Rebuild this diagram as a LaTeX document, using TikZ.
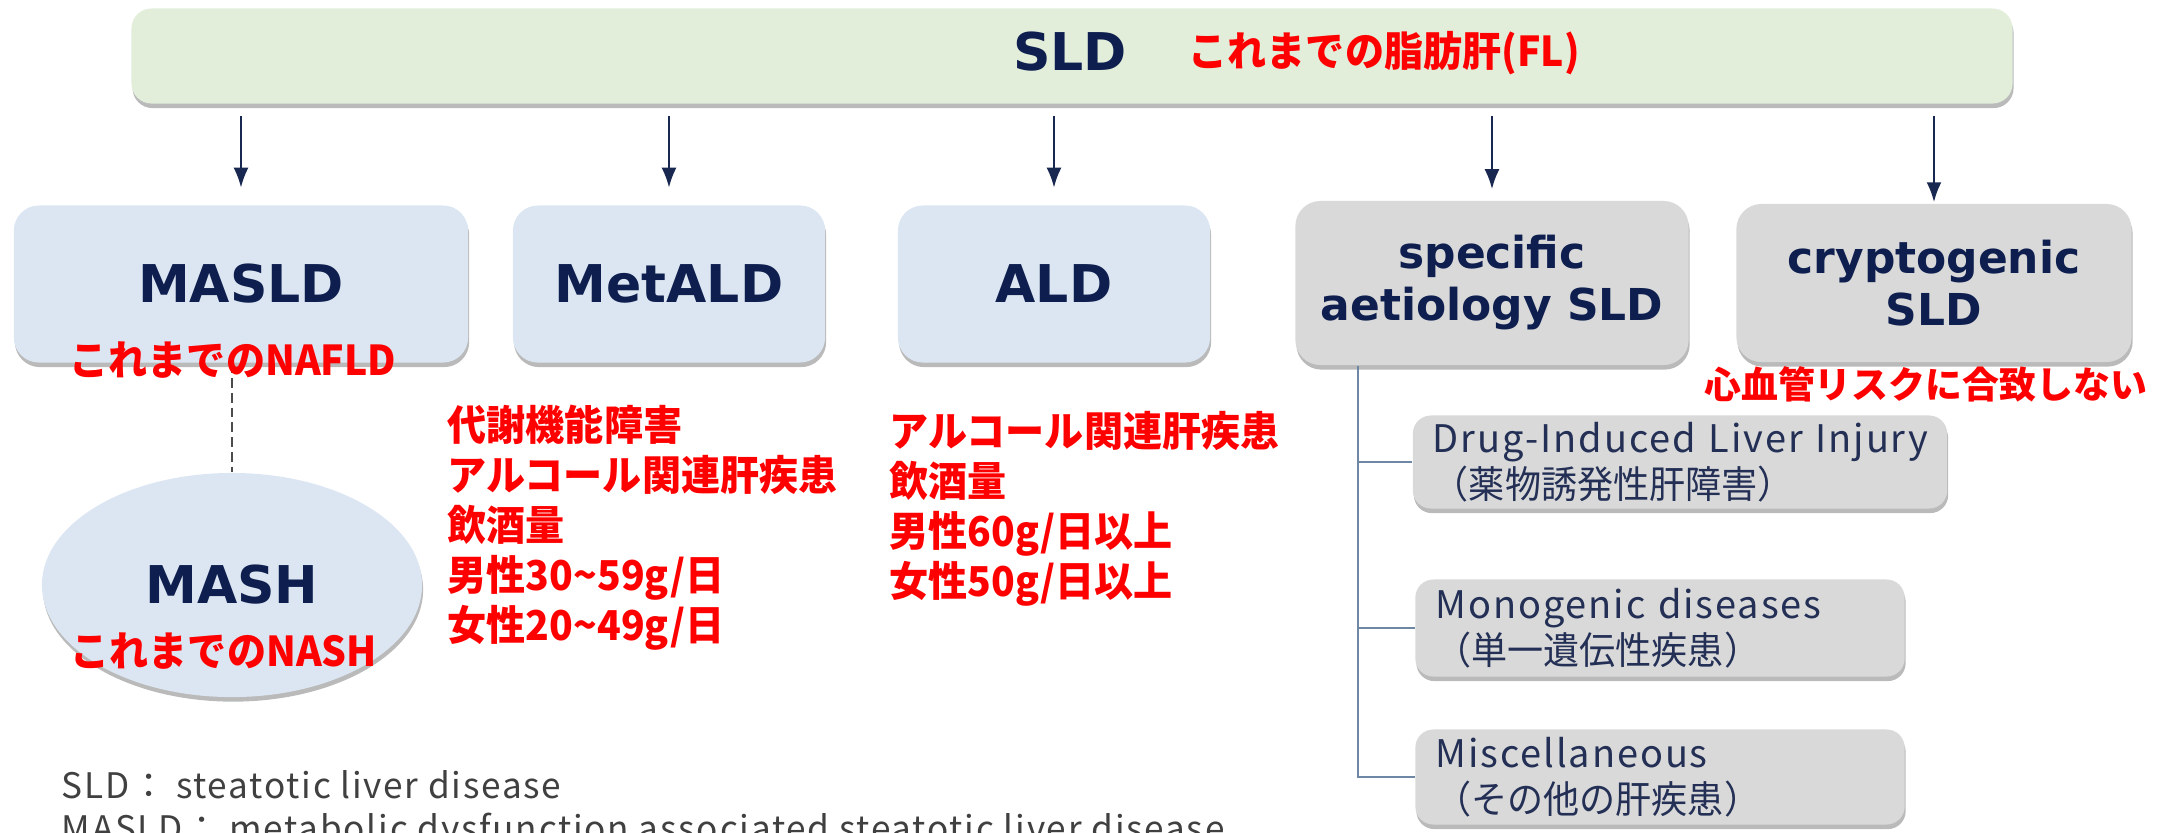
\documentclass[tikz,border=0pt]{standalone}
\usepackage{fontspec}
\setmainfont{DejaVu Sans}
\newfontfamily\dv{DejaVu Sans}
\newfontfamily\jp{Noto Sans CJK JP}
\newfontfamily\jpr{Noto Sans CJK JP}[FakeStretch=0.95]
\newfontfamily\jpw{Noto Sans CJK JP}[LetterSpace=5]
\newfontfamily\jpn{Noto Sans CJK JP}[FakeStretch=0.95]
\usetikzlibrary{shapes.geometric,shadows,arrows.meta}
\definecolor{navy}{RGB}{14,31,79}
\definecolor{arrowc}{RGB}{25,40,80}
\definecolor{boxblue}{RGB}{220,230,242}
\definecolor{boxgray}{RGB}{217,217,217}
\definecolor{bargreen}{RGB}{226,238,218}
\definecolor{subtext}{RGB}{35,47,85}
\definecolor{treec}{RGB}{110,135,165}
\definecolor{foottext}{RGB}{64,64,64}
\definecolor{redc}{RGB}{255,0,0}
\begin{document}
\begin{tikzpicture}[x=0.01cm,y=-0.01cm]
\useasboundingbox (0,0) rectangle (2174,832);
\tikzset{
  shad/.style={drop shadow={shadow xshift=0.3pt,shadow yshift=-1.3pt,fill=black!60,opacity=0.45}},
  titlefont/.style={font=\dv\bfseries\fontsize{14.8}{17}\selectfont, text=navy},
  bluebox/.style={shad, fill=boxblue, rounded corners=0.25cm, minimum height=1.57cm, inner sep=0pt, titlefont},
  graybox/.style={shad, fill=boxgray, rounded corners=0.25cm, minimum height=1.58cm, inner sep=0pt, align=center,
     font=\dv\bfseries\fontsize{12.5}{14.8}\selectfont, text=navy},
  barbox/.style={shad, fill=bargreen, rounded corners=0.2cm, inner sep=0pt},
  redtext/.style={font=\jpr\bfseries\fontsize{11.7}{14.2}\selectfont, text=redc, inner sep=0pt},
  subbox/.style={shad, fill=boxgray, rounded corners=0.18cm, align=left, inner xsep=0.2cm, inner ysep=0pt,
     text=subtext, font=\fontsize{10.8}{13.1}\selectfont},
  foot/.style={font=\jpw\fontsize{10}{12.2}\selectfont, text=foottext, inner sep=0pt},
  arr/.style={draw=arrowc, line width=0.7pt, -{Latex[length=0.2cm,width=0.15cm]}},
  dashline/.style={draw=black!70, line width=0.4pt, dash pattern=on 2.8pt off 1.4pt},
  tree/.style={draw=treec, line width=0.6pt}
}
% top bar
\node[barbox, minimum width=18.8cm, minimum height=0.95cm] (sld) at (1072,56) {};
\node[titlefont, inner sep=0pt] (sldt) at (1070,52) {SLD};
\node[redtext, anchor=west] (fl) at (1188,53) {これまでの脂肪肝(FL)};

% second row
\node[bluebox, minimum width=4.54cm] (masld) at (241,284) {MASLD};
\node[bluebox, minimum width=3.12cm] (metald) at (669,284) {MetALD};
\node[bluebox, minimum width=3.12cm] (ald) at (1054,284) {ALD};
\node[graybox, minimum width=3.93cm, minimum height=1.64cm] (spec) at (1492,283) {specific\\aetiology SLD};
\node[graybox, minimum width=3.95cm] (crypt) at (1934,283) {cryptogenic\\SLD};

% arrows
\draw[arr, shorten <=0.12cm, shorten >=0.17cm] (sld.south -| masld.north) -- (masld.north);
\draw[arr, shorten <=0.12cm, shorten >=0.17cm] (sld.south -| metald.north) -- (metald.north);
\draw[arr, shorten <=0.12cm, shorten >=0.17cm] (sld.south -| ald.north) -- (ald.north);
\draw[arr, shorten <=0.12cm, shorten >=0.11cm] (sld.south -| spec.north) -- (spec.north);
\draw[arr, shorten <=0.12cm, shorten >=0.01cm] (sld.south -| crypt.north) -- (crypt.north);

% MASH
\node[shad, ellipse, fill=boxblue, minimum width=3.8cm, minimum height=2.24cm, inner sep=0pt, titlefont] (mash) at (232,585) {MASH};
\draw[dashline] (mash.north |- masld.south) -- (mash.north);

% red notes
\node[redtext, anchor=west] (nafld) at (69,360) {これまでのNAFLD};
\node[redtext, anchor=west] (nash) at (70,651) {これまでのNASH};
\node[redtext, font=\jp\bfseries\fontsize{10.5}{12.6}\selectfont, anchor=east] (cv) at (2148,384) {心血管リスクに合致しない};
\node[redtext, anchor=west, align=left] (metnote) at (447,528)
  {代謝機能障害\\アルコール関連肝疾患\\飲酒量\\男性30\textasciitilde59g/日\\女性20\textasciitilde49g/日};
\node[redtext, anchor=west, align=left] (aldnote) at (889,509)
  {アルコール関連肝疾患\\飲酒量\\男性60g/日以上\\女性50g/日以上};

% sub boxes
\node[subbox, text width=4.94cm, minimum height=0.93cm] (dili) at (1680,462)
  {{\jpw Drug-Induced Liver Injury}\\{\jpn （薬物誘発性肝障害）}};
\node[subbox, text width=4.49cm, minimum height=0.97cm] (mono) at (1660,628)
  {{\jpw Monogenic diseases}\\{\jpn （単一遺伝性疾患）}};
\node[subbox, text width=4.49cm, minimum height=0.95cm] (misc) at (1660,777)
  {{\jpw Miscellaneous}\\{\jpn （その他の肝疾患）}};

% tree
\coordinate (trunk) at (1358,0);
\draw[tree] (spec.south -| trunk) |- (misc.west);
\draw[tree] (trunk |- dili.west) -- (dili.west);
\draw[tree] (trunk |- mono.west) -- (mono.west);

% footnotes
\node[foot, anchor=base west] (f1) at (61,798) {SLD：\ steatotic liver disease};
\node[foot, anchor=base west] (f2) at (61,841) {MASLD：\ metabolic dysfunction associated steatotic liver disease};
\end{tikzpicture}
\end{document}
